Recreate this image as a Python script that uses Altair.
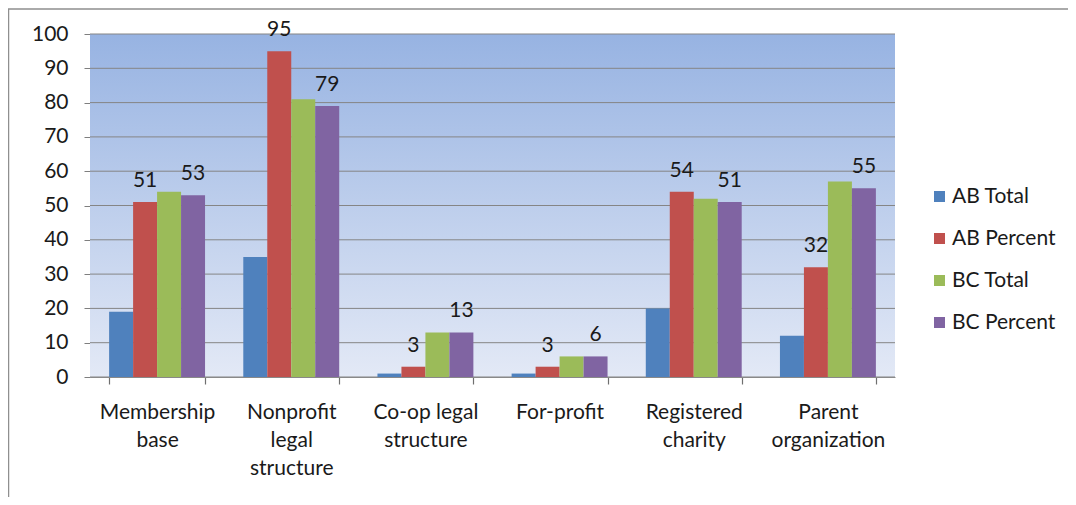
import json
import altair as alt
import pandas as pd

categories = ["Membership base", "Nonprofit legal structure", "Co-op legal structure",
              "For-profit", "Registered charity", "Parent organization"]
label_lines = {
    "Membership base": ["Membership", "base"],
    "Nonprofit legal structure": ["Nonprofit", "legal", "structure"],
    "Co-op legal structure": ["Co-op legal", "structure"],
    "For-profit": ["For-profit"],
    "Registered charity": ["Registered", "charity"],
    "Parent organization": ["Parent", "organization"],
}
series = ["AB Total", "AB Percent", "BC Total", "BC Percent"]
ab_total = [19, 35, 1, 1, 20, 12]
ab_percent = [51, 95, 3, 3, 54, 32]
bc_total = [54, 81, 13, 6, 52, 57]
bc_percent = [53, 79, 13, 6, 51, 55]
labelled_series = ["AB Percent", "BC Percent"]
colors = ["#4f81bd", "#c0504d", "#9bbb59", "#8064a2"]
y_ticks = list(range(0, 101, 10))

rows = []
for s, vals in zip(series, [ab_total, ab_percent, bc_total, bc_percent]):
    for c, v in zip(categories, vals):
        rows.append({"category": c, "series": s, "value": v})
df = pd.DataFrame(rows)
grid_df = pd.DataFrame({"tick": y_ticks})

FONT = "Lato"
FS = 21
W, H = 805, 343
label_expr = json.dumps(label_lines) + "[datum.label]"

x_scale = alt.Scale(paddingInner=0.285, paddingOuter=0.1425)
x_axis = alt.Axis(title=None, labelExpr=label_expr, labelAngle=0,
                  labelFont=FONT, labelFontSize=FS, labelColor="#1a1a1a",
                  labelLineHeight=28, labelPadding=17, labelBaseline="top",
                  ticks=True, tickBand="extent", tickSize=7, tickColor="#6f6f6f",
                  tickWidth=1.2, tickOpacity=1, domainColor="#8c8c8c", grid=False)
xoff = alt.XOffset("series:N", sort=series, scale=alt.Scale(paddingInner=0, paddingOuter=0))
y_scale = alt.Scale(domain=[0, 100], nice=False)
y_axis = alt.Axis(title=None, values=y_ticks, labelFont=FONT, labelFontSize=FS,
                  labelColor="#1a1a1a", labelPadding=16, tickSize=6,
                  labelOverlap=False, labelFlush=False,
                  tickColor="#7f7f7f", domainColor="#8c8c8c", grid=False)

one = pd.DataFrame({"a": [0]})
panel = alt.Chart(one).mark_rect(
    color=alt.LinearGradient(gradient="linear", x1=0, y1=0, x2=0, y2=1,
                             stops=[alt.GradientStop(color="#97b3e2", offset=0),
                                    alt.GradientStop(color="#e3e9f6", offset=1)])
).encode(x=alt.value(0), x2=alt.value(W), y=alt.value(0), y2=alt.value(H))

grid = alt.Chart(grid_df).mark_rule(color="#858585", strokeWidth=1).encode(
    y=alt.Y("tick:Q", scale=y_scale, axis=y_axis)
)

bars = alt.Chart(df).mark_bar().encode(
    x=alt.X("category:N", sort=categories, scale=x_scale, axis=x_axis),
    xOffset=xoff,
    y=alt.Y("value:Q", scale=y_scale, axis=y_axis),
    color=alt.Color("series:N", sort=series,
                    scale=alt.Scale(domain=series, range=colors),
                    legend=alt.Legend(title=None, orient="none", legendX=839, legendY=152,
                                      labelFont=FONT, labelFontSize=FS, labelColor="#1a1a1a",
                                      symbolType="square", symbolSize=121, symbolStrokeWidth=0,
                                      rowPadding=20, labelOffset=2, padding=0)),
)

labels = alt.Chart(df).transform_filter(
    alt.FieldOneOfPredicate(field="series", oneOf=labelled_series)
).mark_text(font=FONT, fontSize=FS, color="#1a1a1a", baseline="alphabetic", dy=-15).encode(
    x=alt.X("category:N", sort=categories, scale=x_scale, axis=x_axis), xOffset=xoff,
    y=alt.Y("value:Q", scale=y_scale, axis=y_axis), text="value:Q"
)

frame = alt.Chart(one).mark_rect(
    fill=None, stroke="#8f8f8f", strokeWidth=1.5, clip=False
).encode(x=alt.value(-81.5), x2=alt.value(1200), y=alt.value(-25), y2=alt.value(600))

chart = alt.layer(frame, panel, grid, bars, labels).properties(
    width=W, height=H,
    autosize=alt.AutoSizeParams(type="none"),
    padding={"left": 82, "top": 26, "right": 173, "bottom": 120},
    background="white",
).configure_view(stroke=None)

chart.save("out.html", embed_options={"renderer": "svg", "actions": False})
